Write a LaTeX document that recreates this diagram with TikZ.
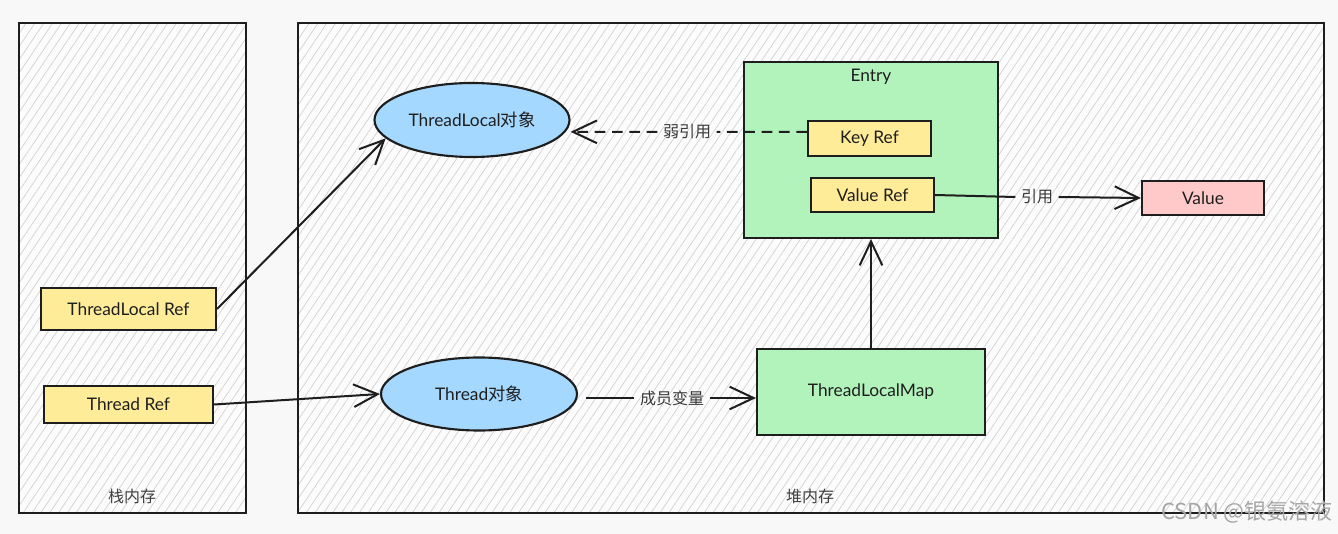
\documentclass[tikz,border=0pt]{standalone}
\usepackage{fontspec}
\setmainfont{Lato}
\newfontfamily\cjk{Noto Sans CJK SC}
\usetikzlibrary{arrows.meta,shapes.geometric,patterns.meta}

\definecolor{pagebg}{HTML}{F8F8F8}
\definecolor{regionbg}{HTML}{FCFCFC}
\definecolor{hatch}{HTML}{D0D0D0}
\definecolor{ink}{HTML}{1E1E1E}
\definecolor{labelink}{HTML}{3A3A3A}
\definecolor{blueobj}{HTML}{A5D8FF}
\definecolor{yellowref}{HTML}{FFEC99}
\definecolor{greenbox}{HTML}{B2F2BB}
\definecolor{pinkbox}{HTML}{FFC9C9}

\tikzset{
  region/.style={draw=ink, line width=1.4pt, rectangle, inner sep=0pt,
    preaction={fill=regionbg},
    pattern={Lines[angle=56,distance=5.5pt,line width=0.5pt]}, pattern color=hatch},
  boxfont/.style={text=ink, font=\fontsize{13}{15}\selectfont},
  refbox/.style={draw=ink, line width=1.6pt, fill=yellowref, rectangle, inner sep=0pt, boxfont},
  objell/.style={draw=ink, line width=1.6pt, fill=blueobj, ellipse, inner sep=0pt, boxfont},
  mapbox/.style={draw=ink, line width=1.6pt, fill=greenbox, rectangle, inner sep=0pt, boxfont},
  valbox/.style={draw=ink, line width=1.6pt, fill=pinkbox, rectangle, inner sep=0pt, boxfont},
  edgelabel/.style={text=labelink, inner sep=4pt, font=\cjk\fontsize{12}{14}\selectfont},
  regionlabel/.style={text=ink!85, inner sep=0pt, font=\cjk\fontsize{12}{14}\selectfont},
  conn/.style={draw=ink, line width=1.5pt},
  tip/.style={-{Straight Barb[length=18pt,width=17pt,line width=1.5pt]}},
  arr/.style={conn, tip},
  weak/.style={conn, dash pattern=on 8pt off 5pt},
}

\begin{document}
\begin{tikzpicture}[x=0.75pt,y=-0.75pt]
  \fill[pagebg] (0,0) rectangle (1338,534);
  \useasboundingbox (0,0) rectangle (1338,534);

  % memory regions
  \node[region, minimum width=170.25pt, minimum height=367.5pt] (stack) at (132.5,268) {};
  \node[region, minimum width=769.5pt, minimum height=367.5pt] (heap) at (811,268) {};
  \node[regionlabel] (stacklbl) at (132,496) {栈内存};
  \node[regionlabel] (heaplbl) at (810,496) {堆内存};

  % references held on the stack
  \node[refbox, minimum width=131.25pt, minimum height=31.5pt] (tlref) at (128.5,309) {ThreadLocal Ref};
  \node[refbox, minimum width=126.75pt, minimum height=27.75pt] (thref) at (128.5,404.5) {Thread Ref};

  % heap objects
  \node[objell, minimum width=146.25pt, minimum height=55.5pt] (tlobj) at (472,120) {ThreadLocal{\cjk 对象}};
  \node[objell, minimum width=147pt, minimum height=54.75pt] (thobj) at (479,394) {Thread{\cjk 对象}};

  \node[mapbox, minimum width=190.5pt, minimum height=132pt] (entry) at (871,150) {};
  \node[boxfont, anchor=north, inner sep=0pt] (entrylbl) at (871,69) {Entry};
  \node[refbox, minimum width=92.25pt, minimum height=26.25pt] (keyref) at (869.5,138.5) {Key Ref};
  \node[refbox, minimum width=92.25pt, minimum height=25.5pt] (valref) at (872.5,195) {Value Ref};

  \node[valbox, minimum width=91.5pt, minimum height=25.5pt] (value) at (1203,198) {Value};
  \node[mapbox, minimum width=171pt, minimum height=64.5pt] (tlmap) at (871,392) {ThreadLocalMap};

  % stack -> heap
  \draw[arr] (tlref.east) -- (tlobj.192);
  \draw[arr] (thref.east) -- (thobj.west);

  % Thread object -> its ThreadLocalMap member
  \node[edgelabel] (memberlbl) at (672,398) {成员变量};
  \draw[conn] ([xshift=6pt]thobj.east |- memberlbl) -- (memberlbl.west);
  \draw[arr] (memberlbl.east) -- (tlmap.west |- memberlbl);

  % map holds entries
  \draw[arr] (tlmap.north) -- (entry.south);

  % weak key reference
  \coordinate (kw) at ([yshift=5pt]keyref.west);
  \node[edgelabel] (weaklbl) at (687,131.8) {弱引用};
  \draw[weak] (kw) -- (weaklbl.east);
  \draw[weak, tip] (weaklbl.west) -- (tlobj.east |- kw);

  % strong value reference
  \node[edgelabel] (strongl) at (1037,197) {引用};
  \draw[conn] (valref.east) -- (strongl.west);
  \draw[arr] (strongl.east) -- (value.west);

  % watermark
  \node[text=black!35, font=\cjk\fontsize{16.5}{18}\selectfont, anchor=east, inner sep=0pt] (mark) at (1333,512) {CSDN @银氨溶液};
\end{tikzpicture}
\end{document}
